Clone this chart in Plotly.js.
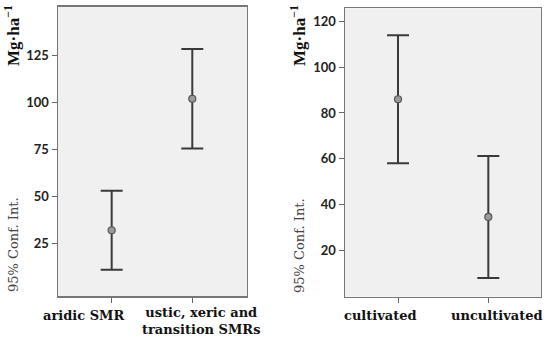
<!DOCTYPE html>
<html>
<head>
<meta charset="utf-8">
<script src="https://cdn.plot.ly/plotly-3.0.1.min.js"></script>
<style>html,body{margin:0;padding:0;background:#fff}#chart{width:550px;height:341px}</style>
</head>
<body>
<div id="chart"></div>
<script>
var smrGroups = ['aridic SMR', 'ustic, xeric and<br>transition SMRs'];
var smrMeans = [32, 102];
var smrCI = [21, 26.5];

var useGroups = ['cultivated', 'uncultivated'];
var useMeans = [86, 34.5];
var useCI = [28, 26.7];

var leftTicks = [25, 50, 75, 100, 125];
var rightTicks = [20, 40, 60, 80, 100, 120];

function ciTrace(x, y, err, xa, ya) {
  return {
    x: x, y: y, xaxis: xa, yaxis: ya,
    type: 'scatter', mode: 'markers',
    marker: {size: 7, color: '#9a9a9a', line: {color: '#555', width: 1.2}},
    error_y: {type: 'data', array: err, visible: true, color: '#3a3a3a', thickness: 2, width: 11},
    showlegend: false, hoverinfo: 'skip'
  };
}

var data = [
  ciTrace(smrGroups, smrMeans, smrCI, 'x', 'y'),
  ciTrace(useGroups, useMeans, useCI, 'x2', 'y2')
];

var tickFont = {family: 'Lato, sans-serif', size: 13, color: '#222', weight: 700};
var xCommon = {
  type: 'category', showticklabels: false, ticks: 'outside', ticklen: 5, tickcolor: '#666',
  showline: true, mirror: true, linecolor: '#777', linewidth: 1.5, showgrid: false, zeroline: false
};
var yCommon = {
  ticks: 'outside', ticklen: 5, tickcolor: '#666', tickfont: tickFont,
  showline: true, mirror: true, linecolor: '#777', linewidth: 1.5, showgrid: false, zeroline: false
};

var labelFont = {family: '"DejaVu Serif", serif', size: 13, color: '#111', weight: 700};
var unitFont = {family: '"Liberation Serif", serif', size: 17, color: '#111', weight: 700};
var ciFont = {family: '"DejaVu Serif", serif', size: 13, color: '#444'};

function sideTitles(xpx) {
  return [
    {xref: 'paper', yref: 'paper', x: xpx / 550, y: 1 - 36 / 341, text: 'Mg·ha<sup>−1</sup>',
     xanchor: 'center', yanchor: 'middle', textangle: -90, showarrow: false, font: unitFont},
    {xref: 'paper', yref: 'paper', x: (xpx + 1) / 550, y: 1 - 245 / 341, text: '95% Conf. Int.',
     xanchor: 'center', yanchor: 'middle', textangle: -90, showarrow: false, font: ciFont}
  ];
}

function groupLabel(xa, cat, shift, ypx, text) {
  return {xref: xa, yref: 'paper', x: cat, xshift: shift, y: 1 - ypx / 341, text: text,
    xanchor: 'center', yanchor: 'middle', showarrow: false, font: labelFont};
}

var annotations = sideTitles(12).concat(sideTitles(298)).concat([
  groupLabel('x', smrGroups[0], -28, 315, 'aridic SMR'),
  groupLabel('x', smrGroups[1], 9, 321, 'ustic, xeric and<br>transition SMRs'),
  groupLabel('x2', useGroups[0], -18, 315, 'cultivated'),
  groupLabel('x2', useGroups[1], 9, 315, 'uncultivated')
]);

var layout = {
  width: 550, height: 341,
  margin: {l: 0, r: 0, t: 0, b: 0},
  paper_bgcolor: '#fff',
  plot_bgcolor: '#f0f0f0',
  xaxis: Object.assign({}, xCommon, {domain: [58 / 550, 246.7 / 550], range: [-0.666, 1.675], anchor: 'y'}),
  yaxis: Object.assign({}, yCommon, {domain: [1 - 296 / 341, 1 - 6.7 / 341], range: [-3, 151], tickvals: leftTicks, anchor: 'x'}),
  xaxis2: Object.assign({}, xCommon, {domain: [345 / 550, 540.7 / 550], range: [-0.587, 1.58], anchor: 'y2'}),
  yaxis2: Object.assign({}, yCommon, {domain: [1 - 296.7 / 341, 1 - 8.3 / 341], range: [-0.4, 125.8], tickvals: rightTicks, anchor: 'x2'}),
  annotations: annotations
};

Plotly.newPlot('chart', data, layout, {staticPlot: true});
</script>
</body>
</html>
